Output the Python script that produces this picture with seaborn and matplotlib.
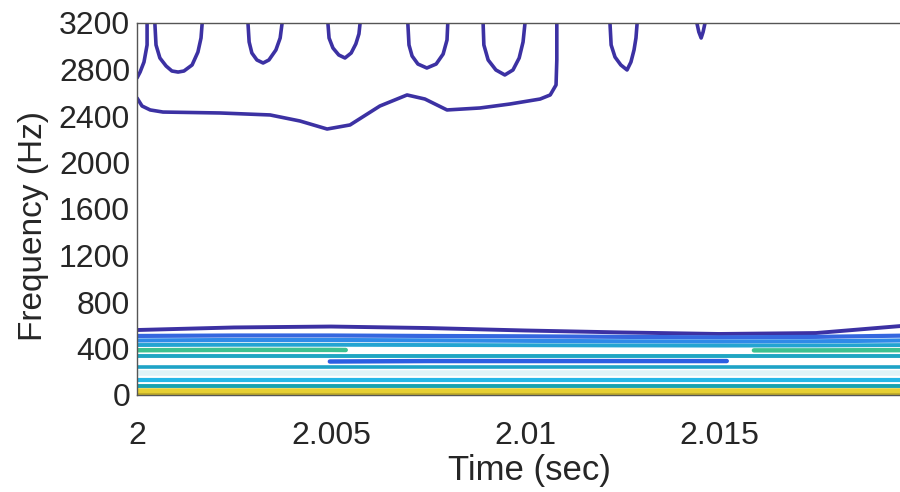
import numpy as np
import seaborn as sns
import pandas as pd
import matplotlib.pyplot as plt

sns.set_style("white")
plt.rcParams['font.family'] = ['Liberation Sans', 'DejaVu Sans']

# contour lines: time (sec) and frequency (Hz)
edge_t = [2.00026, 2.00026, 2.00018, 2.00008, 2.0]
edge_f = [3200, 3011, 2864, 2778, 2727]

ridge_t = [2.0, 2.00013, 2.00034, 2.00067, 2.00214, 2.00343, 2.0042, 2.0049, 2.00549,
           2.00626, 2.00696, 2.00742, 2.00799, 2.00884, 2.00961, 2.01039, 2.01065,
           2.0108, 2.01082, 2.01082]
ridge_f = [2555, 2486, 2452, 2434, 2426, 2409, 2357, 2288, 2323, 2486, 2581, 2546,
           2452, 2469, 2503, 2546, 2581, 2667, 2882, 3200]

loop1_t = [2.00046, 2.00049, 2.00059, 2.00075, 2.0009, 2.00106, 2.00121, 2.00142, 2.00157, 2.00165, 2.00168]
loop1_f = [3200, 3011, 2899, 2830, 2787, 2778, 2787, 2839, 2950, 3071, 3200]
loop2_t = [2.00286, 2.00289, 2.00296, 2.00309, 2.00325, 2.0034, 2.00358, 2.00369, 2.00374]
loop2_f = [3200, 3037, 2942, 2882, 2856, 2882, 2968, 3071, 3200]
loop3_t = [2.00492, 2.00495, 2.00505, 2.0052, 2.00536, 2.00552, 2.00564, 2.00572, 2.00575]
loop3_f = [3200, 3071, 2985, 2925, 2899, 2942, 3020, 3106, 3200]
loop4_t = [2.00698, 2.00701, 2.00709, 2.00724, 2.00747, 2.00771, 2.00789, 2.00799, 2.00801]
loop4_f = [3200, 3011, 2916, 2847, 2813, 2847, 2933, 3054, 3200]
loop5_t = [2.00892, 2.00894, 2.00905, 2.00925, 2.00948, 2.00969, 2.00985, 2.00995, 2.01]
loop5_f = [3200, 3011, 2882, 2796, 2753, 2796, 2899, 3037, 3200]
loop6_t = [2.01219, 2.01222, 2.01232, 2.01247, 2.01263, 2.01273, 2.01281, 2.01286, 2.01289]
loop6_f = [3200, 3011, 2907, 2839, 2796, 2864, 2968, 3071, 3200]
loop7_t = [2.01443, 2.01448, 2.01454, 2.01459, 2.01464]
loop7_f = [3200, 3123, 3071, 3123, 3200]

# low-frequency bands
band_t = [2.0, 2.0025, 2.005, 2.0075, 2.01, 2.0125, 2.015, 2.0175, 2.02]
navy_f = [559, 581, 589, 576, 555, 538, 525, 533, 602]
blue_f = [508, 512, 512, 508, 505, 500, 496, 500, 512]
lblue_f = [469, 473, 473, 470, 466, 462, 460, 462, 470]
cyan1_f = [430, 432, 432, 430, 428, 426, 425, 426, 430]
teal1_f = [335, 335, 335, 335, 335, 335, 335, 335, 335]
teal2_f = [241, 241, 241, 241, 241, 241, 241, 241, 241]
pale_f = [189, 189, 189, 189, 189, 189, 189, 189, 189]
cyan2_f = [125, 125, 125, 125, 125, 125, 125, 125, 125]
teal3_f = [77, 77, 77, 77, 77, 77, 77, 77, 77]
yellow_f = [34, 34, 34, 34, 34, 34, 34, 34, 34]
olive_f = [5, 5, 5, 5, 5, 5, 5, 5, 5]

greenL_t = [2.0, 2.0025, 2.005, 2.00538]
greenL_f = [385, 388, 388, 387]
greenR_t = [2.0159, 2.0175, 2.02]
greenR_f = [384, 384, 386]
royal_t = [2.00497, 2.0075, 2.01, 2.0125, 2.0152]
royal_f = [288, 292, 292, 292, 292]

dark = "#3c31a3"
fig = plt.figure(figsize=(9, 4.92), dpi=100)
ax = fig.add_axes([137/900, 97/492, 776/900, 372/492])

def draw(t, f, c, lw=2.6):
    sns.lineplot(x=t, y=f, color=c, linewidth=lw, sort=False, estimator=None, ax=ax)

for t, f in [(edge_t, edge_f), (ridge_t, ridge_f), (loop1_t, loop1_f), (loop2_t, loop2_f),
             (loop3_t, loop3_f), (loop4_t, loop4_f), (loop5_t, loop5_f),
             (loop6_t, loop6_f), (loop7_t, loop7_f)]:
    draw(t, f, dark)

draw(band_t, navy_f, dark, 2.8)
draw(band_t, blue_f, "#3567df", 3.0)
draw(band_t, lblue_f, "#2f8ae8", 3.0)
draw(band_t, cyan1_f, "#23a4d2", 2.8)
draw(greenL_t, greenL_f, "#3ec18f", 3.2)
draw(greenR_t, greenR_f, "#3ec18f", 3.2)
draw(band_t, teal1_f, "#1fa6c2", 2.8)
draw(royal_t, royal_f, "#2c5ee2", 3.2)
draw(band_t, teal2_f, "#1ea3c6", 2.6)
draw(band_t, pale_f, "#dff3f7", 4)
draw(band_t, cyan2_f, "#25b7e6", 3.0)
draw(band_t, teal3_f, "#17a2b0", 2.8)
draw(band_t, yellow_f, "#e6cf33", 4.0)
draw(band_t, olive_f, "#c2ae2a", 2.2)

ax.set_xlim(2.0, 2.02)
ax.set_ylim(0, 3200)
ax.set_yticks(np.arange(0, 3201, 400))
ax.set_xticks([2.0, 2.005, 2.01, 2.015])
ax.set_xticklabels(["2", "2.005", "2.01", "2.015"])
ax.tick_params(direction="in", length=5, width=1, color="#262626", labelsize=23, labelcolor="#262626")
ax.tick_params(axis="x", pad=19)
ax.tick_params(axis="y", pad=5)
for s in ax.spines.values():
    s.set_color("#555555")
    s.set_linewidth(1)
ax.set_xlabel("Time (sec)", fontsize=25, color="#262626")
ax.set_ylabel("Frequency (Hz)", fontsize=24, color="#262626")
ax.xaxis.set_label_coords(0.506, -0.158)
ax.yaxis.set_label_coords(-0.113, 0.455)

fig.savefig("out.png", dpi=100)
